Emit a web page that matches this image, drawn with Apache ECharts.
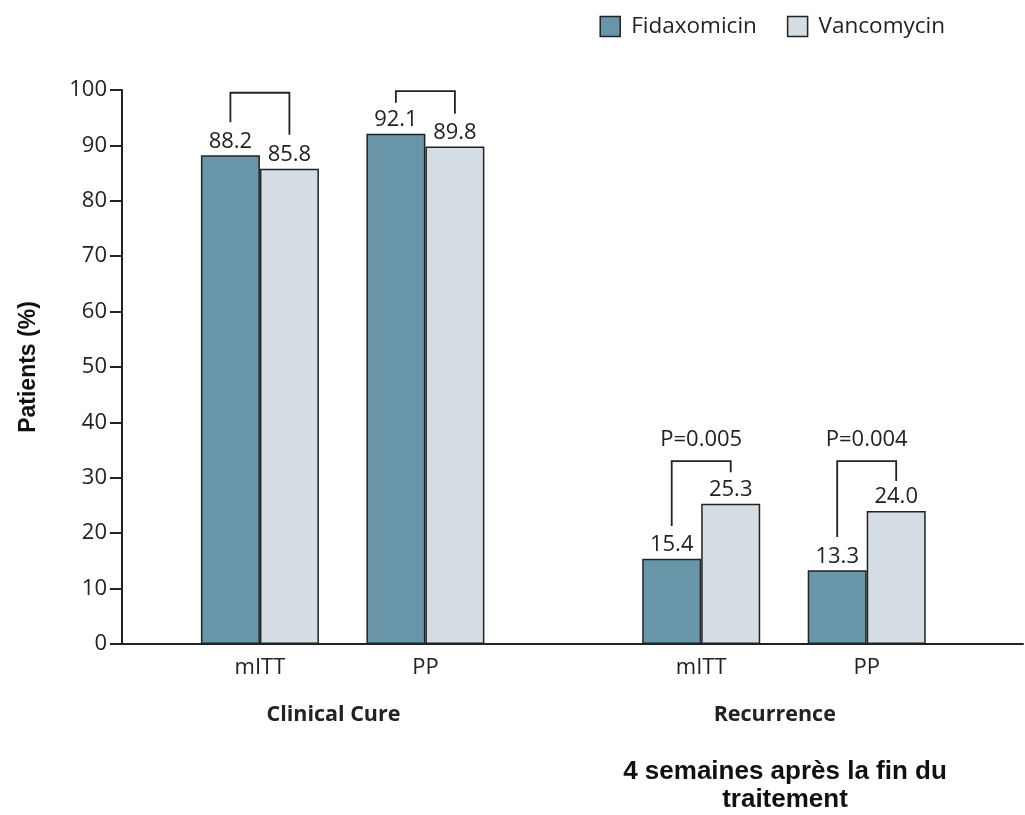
<!DOCTYPE html>
<html>
<head>
<meta charset="utf-8">
<script src="https://cdn.jsdelivr.net/npm/echarts@6/dist/echarts.min.js"></script>
<style>
  html, body { margin: 0; padding: 0; background: #fff; }
  #chart { width: 1025px; height: 815px; }
</style>
</head>
<body>
<div id="chart"></div>
<script>
// data
var categories = ["mITT", "PP", "mITT", "PP"];
var groups = ["Clinical Cure", "Recurrence"];
var fidaxomicin = [88.2, 92.1, 15.4, 13.3];
var vancomycin = [85.8, 89.8, 25.3, 24.0];
var yTicks = [0, 10, 20, 30, 40, 50, 60, 70, 80, 90, 100];
// comparison brackets: top of bracket, left leg end, right leg end (in %)
var bracketTop = [99.5, 99.8, 33.0, 33.0];
var bracketLeft = [94.2, 97.7, 21.3, 19.3];
var bracketRight = [91.9, 95.7, 31.0, 29.4];
var pLabels = ["", "", "P=0.005", "P=0.004"];

// layout: the x axis is split in narrow slots so the two groups get a gap
var SLOT_COUNT = 49;
var catSlots = [7, 16, 31, 40];
var groupSlots = [11, 35];
var BAR_W = 59;

var FONT = '"Open Sans", "DejaVu Sans", sans-serif';
var INK = "#222";

function padded(values) {
  var arr = [];
  for (var i = 0; i < SLOT_COUNT; i++) arr.push("-");
  catSlots.forEach(function (s, i) { arr[s] = values[i]; });
  return arr;
}
var slotNames = padded(categories).map(function (v) { return v === "-" ? "" : v; });
var groupNames = [];
for (var i = 0; i < SLOT_COUNT; i++) groupNames.push("");
groupSlots.forEach(function (s, i) { groupNames[s] = groups[i]; });

var bracketData = catSlots.map(function (s, i) {
  return [s, bracketTop[i], bracketLeft[i], bracketRight[i]];
});

var barLabel = {
  show: true,
  position: "top",
  distance: 3,
  color: INK,
  fontFamily: FONT,
  fontSize: 22,
  formatter: function (p) { return Number(p.value).toFixed(1); },
};

var options = {
  animation: false,
  grid: { left: 122, right: 2, top: 90, bottom: 171 },
  legend: {
    right: 75,
    top: 10,
    icon: "rect",
    itemWidth: 20,
    itemHeight: 20,
    itemGap: 30,
    itemStyle: { borderColor: INK, borderWidth: 1.5 },
    textStyle: { color: INK, fontFamily: FONT, fontSize: 22.5, padding: [0, 0, 0, 6] },
    data: ["Fidaxomicin", "Vancomycin"],
  },
  xAxis: [
    {
      type: "category",
      data: slotNames,
      axisLine: { show: true, lineStyle: { color: INK, width: 2 } },
      axisTick: { show: false },
      axisLabel: { interval: 0, margin: 13, color: INK, fontFamily: FONT, fontSize: 22 },
    },
    {
      type: "category",
      data: groupNames,
      position: "bottom",
      axisLine: { show: false },
      axisTick: { show: false },
      axisLabel: { interval: 0, margin: 60, color: INK, fontFamily: FONT, fontSize: 21.5, fontWeight: "bold" },
    },
  ],
  yAxis: {
    type: "value",
    min: yTicks[0],
    max: yTicks[yTicks.length - 1],
    interval: yTicks[1] - yTicks[0],
    name: "Patients (%)",
    nameLocation: "middle",
    nameGap: 82,
    nameTextStyle: { color: "#111", fontFamily: '"Liberation Sans", Arial, sans-serif', fontSize: 23, fontWeight: "bold" },
    axisLine: { show: true, lineStyle: { color: INK, width: 2 } },
    axisTick: { show: true, length: 12, lineStyle: { color: INK, width: 2 } },
    splitLine: { show: false },
    axisLabel: { margin: 15, color: INK, fontFamily: FONT, fontSize: 22 },
  },
  series: [
    {
      name: "Fidaxomicin",
      type: "bar",
      barWidth: BAR_W,
      barGap: "0%",
      data: padded(fidaxomicin),
      itemStyle: { color: "#6896a8", borderColor: INK, borderWidth: 1.5 },
      label: barLabel,
    },
    {
      name: "Vancomycin",
      type: "bar",
      barWidth: BAR_W,
      barGap: "0%",
      data: padded(vancomycin),
      itemStyle: { color: "#d3dde3", borderColor: INK, borderWidth: 1.5 },
      label: barLabel,
    },
    {
      // brackets + p values
      type: "custom",
      encode: { x: 0, y: [1, 2, 3] },
      data: bracketData,
      clip: false,
      z: 5,
      renderItem: function (params, api) {
        var idx = api.value(0);
        var top = api.coord([idx, api.value(1)]);
        var yl = api.coord([idx, api.value(2)])[1];
        var yr = api.coord([idx, api.value(3)])[1];
        var xl = top[0] - BAR_W / 2;
        var xr = top[0] + BAR_W / 2;
        var children = [
          {
            type: "polyline",
            shape: { points: [[xl, yl], [xl, top[1]], [xr, top[1]], [xr, yr]] },
            style: { fill: null, stroke: INK, lineWidth: 1.8 },
          },
        ];
        var p = pLabels[params.dataIndex];
        if (p) {
          children.push({
            type: "text",
            x: top[0],
            y: top[1] - 10,
            style: { text: p, align: "center", verticalAlign: "bottom", fill: INK, fontFamily: FONT, fontSize: 22 },
          });
        }
        return { type: "group", children: children };
      },
    },
  ],
  graphic: [
    {
      type: "text",
      x: 785,
      y: 758,
      style: {
        text: "4 semaines après la fin du\ntraitement",
        align: "center",
        verticalAlign: "top",
        fill: "#111",
        fontFamily: '"Liberation Sans", Arial, sans-serif',
        fontWeight: "bold",
        fontSize: 26,
        lineHeight: 28,
      },
    },
  ],
};

var chart = echarts.init(document.getElementById("chart"));
chart.setOption(options);
</script>
</body>
</html>
